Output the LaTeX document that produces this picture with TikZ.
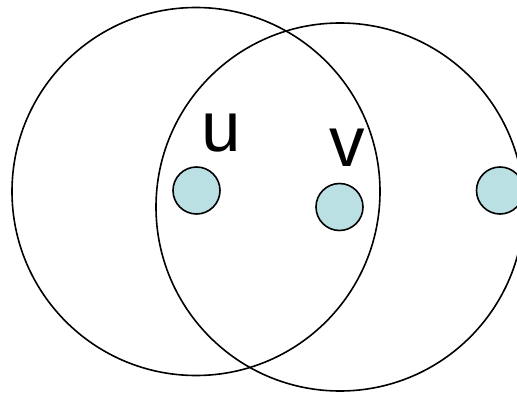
\documentclass[tikz,border=0pt]{standalone}
\usepackage{fontspec}
\setmainfont{Liberation Sans}
\definecolor{nodefill}{RGB}{186,224,228}
\begin{document}
\begin{tikzpicture}[x=1pt,y=1pt,
  rangecircle/.style={draw=black,line width=1.6pt,circle,minimum size=368pt,inner sep=0pt},
  vertex/.style={draw=black,line width=1.6pt,circle,fill=nodefill,minimum size=47pt,inner sep=0pt},
  lbl/.style={anchor=base,inner sep=0pt,font=\fontsize{71}{80}\selectfont}]
\useasboundingbox (0,0) rectangle (517,-393);
\node[rangecircle] (ru) at (196,-191.5) {};
\node[rangecircle] (rv) at (340,-207) {};
\node[vertex] (u) at (196.5,-190.5) {};
\node[vertex] (v) at (339.5,-207) {};
\node[vertex] (w) at (500,-190.5) {};
\node[lbl] (lu) at (221.5,-152) {u};
\node[lbl] (lv) at (347.5,-167) {v};
\end{tikzpicture}
\end{document}
